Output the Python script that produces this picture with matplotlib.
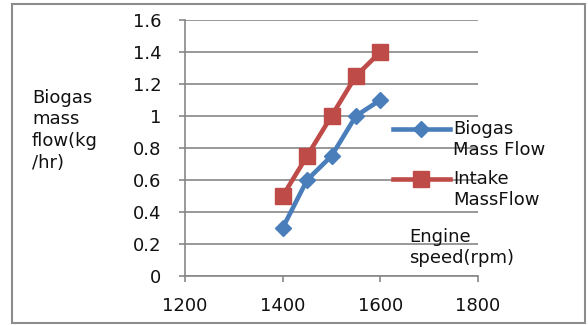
import matplotlib
matplotlib.use("Agg")
import matplotlib.pyplot as plt
from matplotlib.lines import Line2D
from matplotlib.patches import Rectangle

speed = [1400, 1450, 1500, 1550, 1600]
biogas = [0.3, 0.6, 0.75, 1.0, 1.1]
intake = [0.5, 0.75, 1.0, 1.25, 1.4]
xticks = [1200, 1400, 1600, 1800]
yticks = [0, 0.2, 0.4, 0.6, 0.8, 1.0, 1.2, 1.4, 1.6]
ytick_labels = ["0", "0.2", "0.4", "0.6", "0.8", "1", "1.2", "1.4", "1.6"]

W, H = 588, 325
fig = plt.figure(figsize=(W/100, H/100), dpi=100)
plt.rcParams['font.family'] = ['DejaVu Sans']
FS = 13
blue = '#4A7EBB'
red = '#BE4B48'
grey = '#878787'
tc = '#111111'

def fx(px):
    return px / W
def fy(py):
    return 1 - py / H

ax = fig.add_axes([fx(185), fy(276), (478-185)/W, (276-20)/H])
ax.plot(speed, biogas, color=blue, lw=3.3, marker='D', ms=8.5, mfc=blue, mec=blue, zorder=3)
ax.plot(speed, intake, color=red, lw=3.3, marker='s', ms=12, mfc=red, mec=red, zorder=4)
ax.set_xlim(1200, 1800)
ax.set_ylim(0, 1.6)
ax.set_xticks(xticks)
ax.set_yticks(yticks)
ax.set_yticklabels(ytick_labels)
ax.yaxis.grid(True, color=grey, lw=1.2)
ax.set_axisbelow(True)
for s in ['top', 'right']:
    ax.spines[s].set_visible(False)
for s in ['left', 'bottom']:
    ax.spines[s].set_color(grey)
    ax.spines[s].set_linewidth(1.2)
ax.tick_params(axis='both', direction='out', length=4, width=1.2, color=grey, labelsize=FS, labelcolor=tc)
ax.tick_params(axis='y', pad=13)
ax.tick_params(axis='x', pad=11)

# y label
for i, t in enumerate(["Biogas", "mass", "flow(kg", "/hr)"]):
    fig.text(fx(32), fy([98, 119, 141, 163][i]), t, fontsize=FS, ha='left', va='center', color=tc)
# x label
fig.text(fx(409), fy(237), "Engine", fontsize=FS, ha='left', va='center', color=tc)
fig.text(fx(409), fy(258), "speed(rpm)", fontsize=FS, ha='left', va='center', color=tc)

# legend
fig.add_artist(Line2D([fx(393), fx(450)], [fy(129), fy(129)], color=blue, lw=3.3))
fig.add_artist(Line2D([fx(421)], [fy(129)], color=blue, marker='D', ms=8.5, lw=0))
fig.add_artist(Line2D([fx(393), fx(450)], [fy(179), fy(179)], color=red, lw=3.3))
fig.add_artist(Line2D([fx(421)], [fy(179)], color=red, marker='s', ms=12, lw=0))
fig.text(fx(453), fy(129), "Biogas", fontsize=FS, ha='left', va='center', color=tc)
fig.text(fx(453), fy(150), "Mass Flow", fontsize=FS, ha='left', va='center', color=tc)
fig.text(fx(453), fy(179), "Intake", fontsize=FS, ha='left', va='center', color=tc)
fig.text(fx(453), fy(200), "MassFlow", fontsize=FS, ha='left', va='center', color=tc)

# outer frame
fig.add_artist(Rectangle((fx(12), fy(323)), (585-12)/W, (323-4)/H, transform=fig.transFigure,
                         fill=False, edgecolor='#8c8c8c', lw=1.5))

fig.savefig("out.png", dpi=100)
